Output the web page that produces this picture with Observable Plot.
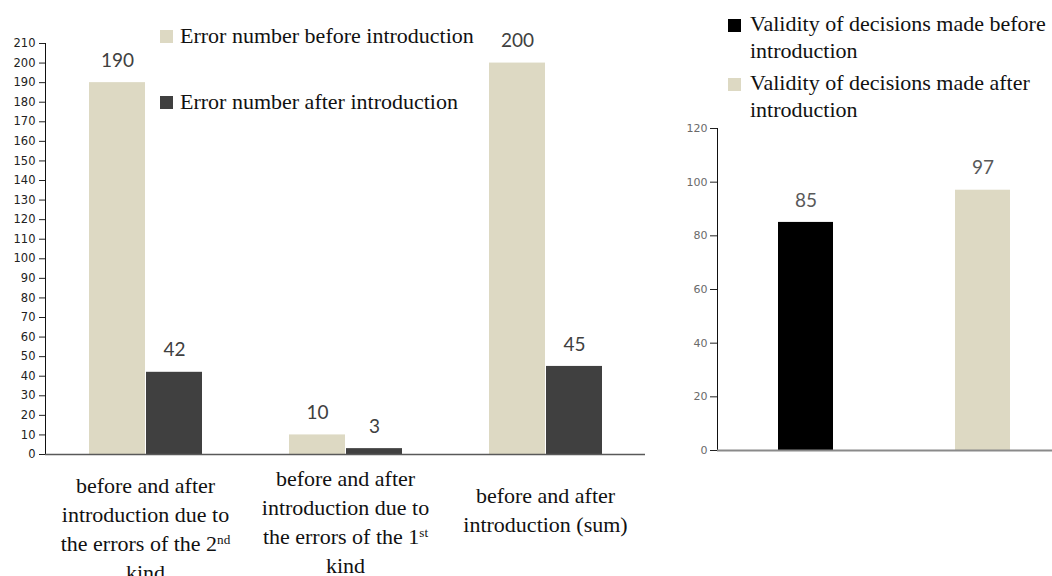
<!DOCTYPE html>
<html>
<head>
<meta charset="utf-8">
<script src="https://cdn.jsdelivr.net/npm/d3@7"></script>
<script src="https://cdn.jsdelivr.net/npm/@observablehq/plot@0.6"></script>
<style>
  html, body { margin: 0; padding: 0; background: #fff; }
  #wrap { position: relative; width: 1052px; height: 576px; overflow: hidden; }
  #left { position: absolute; left: 0; top: 0; }
  #right { position: absolute; left: 660px; top: 0; width: 392px; height: 576px; overflow: hidden; }
  #wrap svg { max-width: none !important; }
  .leg { position: absolute; font-family: "Liberation Serif", "Times New Roman", serif; font-size: 22px; color: #111; white-space: pre-line; line-height: 26.5px; }
  .sw { position: absolute; width: 13px; height: 13px; }
</style>
</head>
<body>
<div id="wrap">
  <div id="left"></div>
  <div id="right"></div>
</div>
<script>
// ---- data ----
const categories = [
  "before and after\nintroduction due to\nthe errors of the 2nd\nkind",
  "before and after\nintroduction due to\nthe errors of the 1st\nkind",
  "before and after\nintroduction (sum)"
];
const seriesLeft = ["Error number before introduction", "Error number after introduction"];
const errorsBefore = [190, 10, 200];
const errorsAfter = [42, 3, 45];
const yTicksLeft = d3.range(0, 211, 10);

const seriesRight = ["Validity of decisions made before\nintroduction", "Validity of decisions made after\nintroduction"];
const validity = [85, 97];
const yTicksRight = [0, 20, 40, 60, 80, 100, 120];

// ---- styles ----
const beige = "#ddd9c3";
const dark = "#404040";
const black = "#000000";
const catDy = [18, 11, 28];

// ---- left chart ----
const leftData = [];
categories.forEach((c, i) => {
  leftData.push({cat: c, series: seriesLeft[0], value: errorsBefore[i]});
  leftData.push({cat: c, series: seriesLeft[1], value: errorsAfter[i]});
});

const left = Plot.plot({
  width: 660,
  height: 576,
  marginLeft: 45,
  marginRight: 15,
  marginTop: 43,
  marginBottom: 122,
  style: {fontFamily: "DejaVu Sans, sans-serif", fontSize: "11.5px", color: "#222", background: "transparent"},
  fx: {domain: categories, padding: 0, axis: null},
  x: {domain: seriesLeft, paddingInner: 0.018, paddingOuter: 0.763, axis: null},
  y: {domain: [0, 210], axis: null},
  color: {domain: seriesLeft, range: [beige, dark]},
  marks: [
    Plot.axisY({ticks: yTicksLeft, tickSize: 6, tickPadding: 4, tickFormat: d => d, label: null, stroke: "#222", fill: "#222", facetAnchor: "left"}),
    Plot.frame({anchor: "left", stroke: "#111", facetAnchor: "left"}),
    Plot.barY(leftData, {fx: "cat", x: "series", y: "value", fill: "series"}),
    Plot.ruleY([0], {stroke: "#595959", strokeWidth: 1.5}),
    Plot.text(leftData, {fx: "cat", x: "series", y: "value", text: d => String(d.value), dy: -22,
      fill: "#404040", fontSize: 19, fontFamily: "Lato, 'Open Sans', sans-serif"}),
    ...categories.map((c, i) => Plot.text([c], {fx: d => d, text: d => d, frameAnchor: "bottom", lineAnchor: "top",
      dy: catDy[i], lineHeight: 1.32, fontSize: 22, fill: "#111", fontFamily: "'Liberation Serif', 'Times New Roman', serif"}))
  ]
});

// superscripts for ordinal suffixes
d3.select(left).selectAll("text tspan").each(function() {
  const t = this.textContent;
  const m = t.match(/^(.*\d)(st|nd|rd|th)$/);
  if (m) {
    this.textContent = m[1];
    d3.select(this).append("tspan").attr("baseline-shift", "super").attr("font-size", "60%").text(m[2]);
  }
});
document.getElementById("left").appendChild(left);

// ---- right chart ----
const rightData = seriesRight.map((s, i) => ({series: s, value: validity[i]}));
const right = Plot.plot({
  width: 411,
  height: 576,
  marginLeft: 57,
  marginRight: 0,
  marginTop: 128,
  marginBottom: 126,
  style: {fontFamily: "DejaVu Sans, sans-serif", fontSize: "11px", background: "transparent", maxWidth: "none"},
  x: {domain: seriesRight, paddingInner: 0.69, paddingOuter: 0.345, axis: null},
  y: {domain: [0, 120], axis: null},
  color: {domain: seriesRight, range: [black, beige]},
  marks: [
    Plot.axisY({ticks: yTicksRight, tickSize: 7, tickPadding: 3, label: null, stroke: "#222", fill: "#6a6a6a"}),
    Plot.frame({anchor: "left", stroke: "#111"}),
    Plot.barY(rightData, {x: "series", y: "value", fill: "series"}),
    Plot.ruleY([0], {stroke: "#8a8a8a", strokeWidth: 2}),
    Plot.text(rightData, {x: "series", y: "value", text: d => String(d.value), dy: -22,
      fill: "#595959", fontSize: 19, fontFamily: "Lato, 'Open Sans', sans-serif"})
  ]
});
document.getElementById("right").appendChild(right);

// ---- legends (HTML) ----
const wrap = document.getElementById("wrap");
function addLegend(label, color, sx, sy, tx, ty) {
  const sw = document.createElement("div");
  sw.className = "sw";
  sw.style.left = sx + "px"; sw.style.top = sy + "px"; sw.style.background = color;
  wrap.appendChild(sw);
  const tl = document.createElement("div");
  tl.className = "leg";
  tl.style.left = tx + "px"; tl.style.top = ty + "px";
  tl.textContent = label;
  wrap.appendChild(tl);
}
addLegend(seriesLeft[0], beige, 160, 30, 180, 23);
addLegend(seriesLeft[1], dark, 160, 96, 180, 89);
addLegend(seriesRight[0], black, 728, 19, 750, 11);
addLegend(seriesRight[1], beige, 728, 78, 750, 70);
</script>
</body>
</html>
